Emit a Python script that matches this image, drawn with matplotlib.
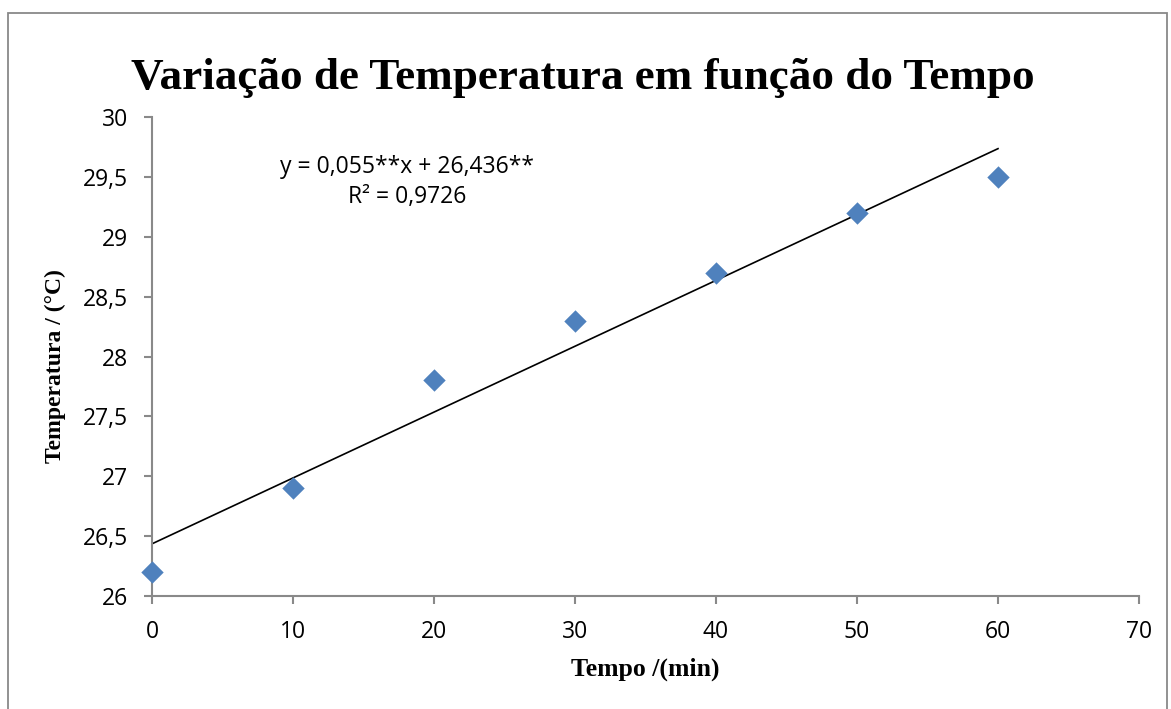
import numpy as np
import matplotlib
matplotlib.use('Agg')
import matplotlib.pyplot as plt
from matplotlib.patches import Rectangle

# dados
tempo = [0, 10, 20, 30, 40, 50, 60]
temperatura = [26.2, 26.9, 27.8, 28.3, 28.7, 29.2, 29.5]
xticks = [0, 10, 20, 30, 40, 50, 60, 70]
yticks = [26, 26.5, 27, 27.5, 28, 28.5, 29, 29.5, 30]

cinza = '#898989'
azul = '#4F81BD'
fonte = 'Open Sans'

fig = plt.figure(figsize=(11.71, 7.09), dpi=100)
ax = fig.add_axes([152/1171, 1 - 596/709, (1139 - 152)/1171, (596 - 117)/709])

# borda da figura
fig.patches.append(Rectangle((8/1171, -0.05), (1167 - 8)/1171, 1.05 - 13/709,
                             transform=fig.transFigure, fill=False,
                             edgecolor=cinza, linewidth=1.3))

ax.scatter(tempo, temperatura, marker='D', s=130, color=azul, zorder=3,
           clip_on=False, linewidths=0)

# linha de tendência
coef = np.polyfit(tempo, temperatura, 1)
xs = np.array([min(tempo), max(tempo)])
ax.plot(xs, np.polyval(coef, xs), color='black', linewidth=1.2, zorder=2)

ax.set_xlim(0, 70)
ax.set_ylim(26, 30)
ax.set_xticks(xticks)
ax.set_yticks(yticks)
ax.set_xticklabels([str(v) for v in xticks])
ax.set_yticklabels([('%g' % v).replace('.', ',') for v in yticks])

for s in ['top', 'right']:
    ax.spines[s].set_visible(False)
for s in ['left', 'bottom']:
    ax.spines[s].set_color(cinza)
    ax.spines[s].set_linewidth(1.5)
ax.tick_params(direction='out', length=6, width=1.5, color=cinza,
               labelsize=16.5)
ax.tick_params(axis='y', pad=11)
ax.tick_params(axis='x', pad=11)
for lab in ax.get_xticklabels() + ax.get_yticklabels():
    lab.set_family(fonte)

fig.text(583/1171, 1 - 78/709, 'Variação de Temperatura em função do Tempo',
         ha='center', va='center', family='Liberation Serif',
         fontweight='bold', fontsize=32.5)
fig.text(645/1171, 1 - 669/709, 'Tempo /(min)', ha='center', va='center',
         family='Liberation Serif', fontweight='bold', fontsize=18.5)
fig.text(55/1171, 1 - 366/709, 'Temperatura / (°C)', ha='center', va='center',
         rotation=90, family='Liberation Serif', fontweight='bold', fontsize=17)

fig.text(407/1171, 1 - 167/709, 'y = 0,055**x + 26,436**', ha='center',
         va='center', family=fonte, fontsize=16.5)
fig.text(407/1171, 1 - 197/709, 'R² = 0,9726', ha='center',
         va='center', family=fonte, fontsize=16.5)

fig.savefig('out.png', dpi=100)
